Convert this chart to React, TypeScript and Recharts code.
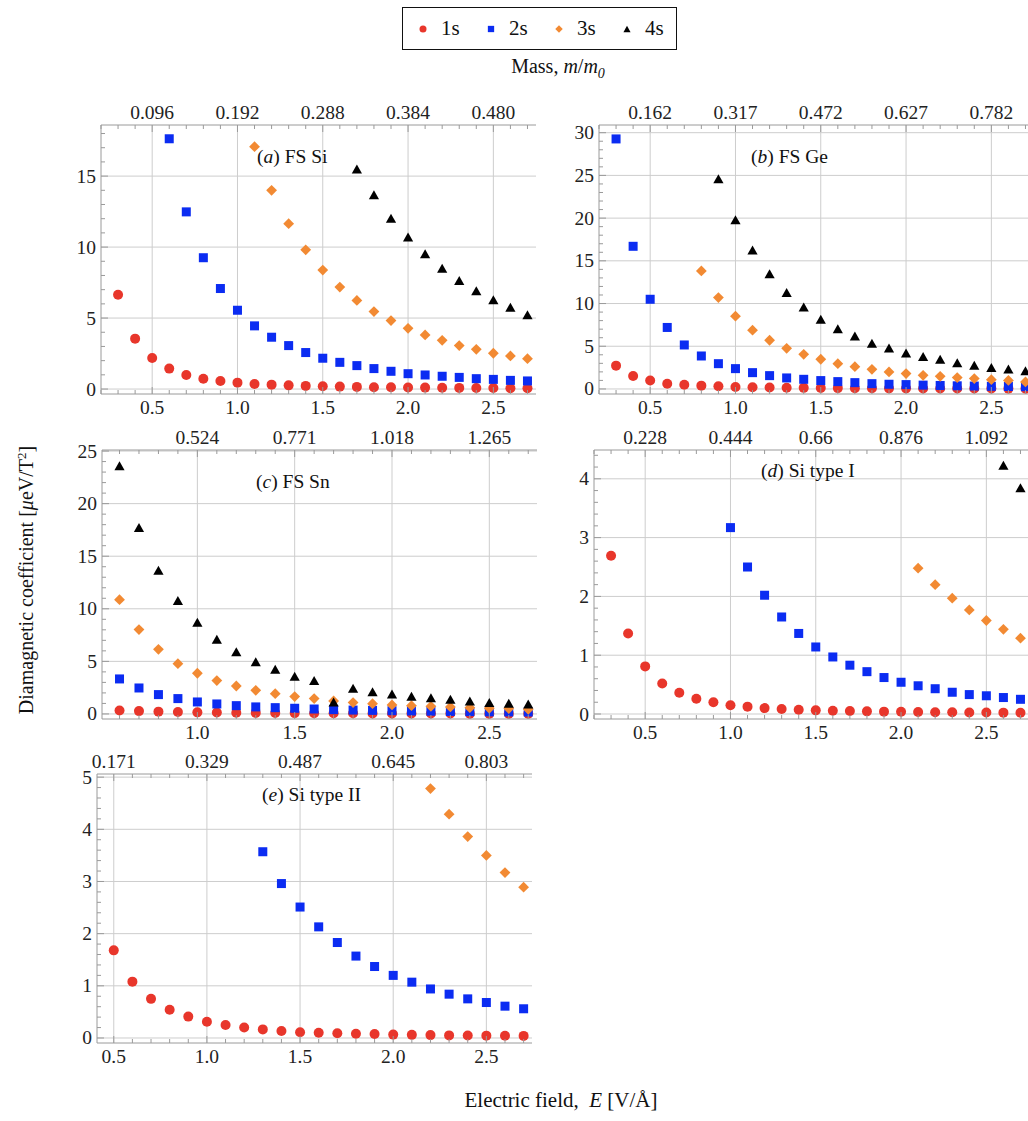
import React from "react";
import { ScatterChart, Scatter, XAxis, YAxis, CartesianGrid } from "recharts";

// ---------- data ----------
const field = [0.3, 0.4, 0.5, 0.6, 0.7, 0.8, 0.9, 1.0, 1.1, 1.2, 1.3, 1.4, 1.5, 1.6, 1.7, 1.8, 1.9, 2.0, 2.1, 2.2, 2.3, 2.4, 2.5, 2.6, 2.7];

const seriesNames = ["1s", "2s", "3s", "4s"];
const seriesColors = ["#e8362b", "#0b2cf2", "#f28a33", "#000000"];
const seriesShapes = ["circle", "square", "diamond", "triangle"];

const fieldTicks = [0.5, 1.0, 1.5, 2.0, 2.5];
const fieldLabels = ["0.5", "1.0", "1.5", "2.0", "2.5"];

// (a) FS Si
const siFS1s = [6.64, 3.55, 2.19, 1.44, 0.99, 0.73, 0.57, 0.45, 0.36, 0.31, 0.26, 0.22, 0.19, 0.17, 0.15, 0.13, 0.12, 0.11, 0.1, 0.09, 0.08, 0.07, 0.07, 0.06, 0.06];
const siFS2s = [null, null, null, 17.63, 12.48, 9.25, 7.08, 5.55, 4.45, 3.65, 3.06, 2.57, 2.17, 1.88, 1.65, 1.44, 1.25, 1.08, 0.99, 0.9, 0.82, 0.73, 0.68, 0.61, 0.57];
const siFS3s = [null, null, null, null, null, null, null, null, 17.07, 14.0, 11.65, 9.81, 8.38, 7.18, 6.24, 5.46, 4.82, 4.28, 3.81, 3.43, 3.06, 2.8, 2.52, 2.33, 2.14];
const siFS4s = [null, null, null, null, null, null, null, null, null, null, null, null, null, null, 15.5, 13.68, 12.03, 10.71, 9.53, 8.5, 7.65, 6.92, 6.29, 5.77, 5.23];
const siFSMass = ["0.096", "0.192", "0.288", "0.384", "0.480"];

// (b) FS Ge
const geFS1s = [2.73, 1.52, 0.98, 0.62, 0.5, 0.39, 0.31, 0.23, 0.2, 0.17, 0.15, 0.13, 0.11, 0.1, 0.09, 0.08, 0.07, 0.07, 0.06, 0.06, 0.05, 0.05, 0.05, 0.04, 0.04];
const geFS2s = [29.27, 16.7, 10.5, 7.2, 5.15, 3.86, 2.96, 2.38, 1.91, 1.56, 1.29, 1.13, 0.98, 0.86, 0.74, 0.62, 0.55, 0.51, 0.45, 0.41, 0.37, 0.34, 0.31, 0.29, 0.27];
const geFS3s = [null, null, null, null, null, 13.82, 10.7, 8.52, 6.88, 5.7, 4.76, 4.06, 3.48, 2.96, 2.61, 2.3, 1.99, 1.8, 1.6, 1.48, 1.33, 1.21, 1.09, 1.0, 0.82];
const geFS4s = [null, null, null, null, null, null, 24.6, 19.8, 16.27, 13.5, 11.28, 9.6, 8.15, 7.06, 6.2, 5.35, 4.8, 4.21, 3.79, 3.48, 3.08, 2.77, 2.5, 2.34, 2.14];
const geFSMass = ["0.162", "0.317", "0.472", "0.627", "0.782"];

// (c) FS Sn
const snFS1s = [null, null, null, 0.32, 0.27, 0.22, 0.18, 0.15, 0.13, 0.11, 0.1, 0.09, 0.08, 0.07, 0.06, 0.06, 0.05, 0.05, 0.04, 0.04, 0.04, 0.03, 0.03, 0.03, 0.03];
const snFS2s = [null, null, null, 3.33, 2.47, 1.84, 1.46, 1.14, 0.95, 0.79, 0.67, 0.6, 0.54, 0.47, 0.41, 0.37, 0.34, 0.31, 0.28, 0.26, 0.24, 0.22, 0.2, 0.19, 0.18];
const snFS3s = [null, null, null, 10.87, 8.02, 6.15, 4.78, 3.87, 3.17, 2.66, 2.25, 1.93, 1.65, 1.46, 1.24, 1.08, 0.98, 0.86, 0.79, 0.73, 0.67, 0.6, 0.54, 0.51, 0.44];
const snFS4s = [null, null, null, 23.6, 17.74, 13.66, 10.8, 8.71, 7.1, 5.92, 4.97, 4.25, 3.58, 3.17, 1.14, 2.44, 2.12, 1.9, 1.68, 1.55, 1.4, 1.24, 1.08, 1.02, 0.95];
const snFSMass = [null, "0.524", "0.771", "1.018", "1.265"];

// (d) Si type I
const siI1s = [2.69, 1.37, 0.81, 0.52, 0.36, 0.26, 0.2, 0.15, 0.125, 0.1, 0.085, 0.072, 0.062, 0.055, 0.05, 0.045, 0.04, 0.037, 0.034, 0.031, 0.029, 0.027, 0.025, 0.023, 0.021];
const siI2s = [null, null, null, null, null, null, null, 3.17, 2.5, 2.02, 1.65, 1.37, 1.14, 0.97, 0.83, 0.72, 0.62, 0.54, 0.48, 0.43, 0.37, 0.33, 0.31, 0.28, 0.25];
const siI3s = [null, null, null, null, null, null, null, null, null, null, null, null, null, null, null, null, null, null, 2.48, 2.2, 1.97, 1.77, 1.59, 1.44, 1.29];
const siI4s = [null, null, null, null, null, null, null, null, null, null, null, null, null, null, null, null, null, null, null, null, null, null, null, 4.23, 3.85];
const siIMass = ["0.228", "0.444", "0.66", "0.876", "1.092"];

// (e) Si type II
const siII1s = [null, null, 1.68, 1.08, 0.75, 0.54, 0.41, 0.31, 0.25, 0.2, 0.165, 0.134, 0.11, 0.1, 0.09, 0.08, 0.075, 0.065, 0.06, 0.055, 0.05, 0.048, 0.045, 0.042, 0.04];
const siII2s = [null, null, null, null, null, null, null, null, null, null, 3.57, 2.96, 2.51, 2.13, 1.83, 1.57, 1.37, 1.2, 1.07, 0.94, 0.84, 0.75, 0.68, 0.61, 0.56];
const siII3s = [null, null, null, null, null, null, null, null, null, null, null, null, null, null, null, null, null, null, null, 4.78, 4.29, 3.86, 3.5, 3.17, 2.89];
const siIIMass = ["0.171", "0.329", "0.487", "0.645", "0.803"];

// ---------- layout ----------
const FRAME = "#9a9a9a";
const GRID = "#cdcdcd";
const FONT = "'Liberation Serif', 'Times New Roman', serif";
const TICK_FS = 19.5;

const panels = [
  { tag: "a", name: "FS Si", series: [siFS1s, siFS2s, siFS3s, siFS4s], mass: siFSMass, xd: [0.2, 2.75], yd: [-0.35, 18.6], yMajor: [0, 5, 10, 15], yMinor: 1, box: [101, 125], title: [257, 157] },
  { tag: "b", name: "FS Ge", series: [geFS1s, geFS2s, geFS3s, geFS4s], mass: geFSMass, xd: [0.2, 2.75], yd: [-0.59, 30.9], yMajor: [0, 5, 10, 15, 20, 25, 30], yMinor: 1, box: [599, 125], title: [751, 157] },
  { tag: "c", name: "FS Sn", series: [snFS1s, snFS2s, snFS3s, snFS4s], mass: snFSMass, xd: [0.51, 2.745], yd: [-0.48, 25.1], yMajor: [0, 5, 10, 15, 20, 25], yMinor: 1, box: [102, 450], title: [256, 482] },
  { tag: "d", name: "Si type I", series: [siI1s, siI2s, siI3s, siI4s], mass: siIMass, xd: [0.2, 2.75], yd: [-0.085, 4.49], yMajor: [0, 1, 2, 3, 4], yMinor: 0.2, box: [594, 450], title: [761, 471] },
  { tag: "e", name: "Si type II", series: [siII1s, siII2s, siII3s], mass: siIIMass, xd: [0.41, 2.745], yd: [-0.096, 5.06], yMajor: [0, 1, 2, 3, 4, 5], yMinor: 0.2, box: [97, 774], title: [262, 795] },
];

const BOX_W = 435;
const BOX_H = 269;
const AX_L = 45;
const AX_T = 35;
const AX_B = 35;

function ticksBetween(lo: number, hi: number, step: number) {
  const out: number[] = [];
  for (let v = Math.ceil(lo / step) * step; v <= hi + 1e-9; v += step) {
    out.push(Math.round(v * 1000) / 1000);
  }
  return out;
}

function Marker({ shape, color, cx, cy, s = 1 }: any) {
  if (shape === "circle") return <circle cx={cx} cy={cy} r={5 * s} fill={color} />;
  if (shape === "square") {
    const h = 4.5 * s;
    return <rect x={cx - h} y={cy - h} width={2 * h} height={2 * h} fill={color} />;
  }
  if (shape === "diamond") {
    const h = 5.4 * s;
    return <path d={`M${cx},${cy - h}L${cx + h},${cy}L${cx},${cy + h}L${cx - h},${cy}Z`} fill={color} />;
  }
  const w = 5.1 * s;
  const h = 4.5 * s;
  return <path d={`M${cx},${cy - h}L${cx + w},${cy + h}L${cx - w},${cy + h}Z`} fill={color} />;
}

function FrameTick(props: any) {
  const { x, y, payload, side, majors, labels } = props;
  const v = payload.value;
  const idx = majors.findIndex((m: number) => Math.abs(m - v) < 1e-6);
  const len = idx >= 0 ? 7 : 4;
  const label = idx >= 0 && labels ? labels[idx] : null;
  const txt = { fontFamily: FONT, fontSize: TICK_FS, fill: "#222" };
  if (side === "bottom")
    return (
      <g>
        <line x1={x} y1={y} x2={x} y2={y - len} stroke={FRAME} />
        {label && <text x={x} y={y + 20} textAnchor="middle" {...txt}>{label}</text>}
      </g>
    );
  if (side === "top")
    return (
      <g>
        <line x1={x} y1={y} x2={x} y2={y + len} stroke={FRAME} />
        {label && <text x={x} y={y - 6} textAnchor="middle" {...txt}>{label}</text>}
      </g>
    );
  if (side === "left")
    return (
      <g>
        <line x1={x} y1={y} x2={x + len} y2={y} stroke={FRAME} />
        {label != null && <text x={x - 5} y={y + 6.5} textAnchor="end" {...txt}>{label}</text>}
      </g>
    );
  return (
    <g>
      <line x1={x} y1={y} x2={x - len} y2={y} stroke={FRAME} />
    </g>
  );
}

function Panel({ p }: any) {
  const xTicks = ticksBetween(p.xd[0], p.xd[1], 0.1);
  const yTicks = ticksBetween(Math.max(0, p.yd[0]), p.yd[1], p.yMinor);
  const xMajor = fieldTicks.filter((t) => t >= p.xd[0]);
  const xLab = fieldLabels.filter((_, i) => fieldTicks[i] >= p.xd[0]);
  const massLab = p.mass.filter((m: any) => m != null);
  const yLab = p.yMajor.map((v: number) => String(v));
  const axisCommon = { tickLine: false, tickSize: 0, tickMargin: 0, interval: 0 as const, allowDataOverflow: true, axisLine: { stroke: FRAME } };

  return (
    <div style={{ position: "absolute", left: p.box[0] - AX_L, top: p.box[1] - AX_T }}>
      <ScatterChart width={BOX_W + AX_L + 2} height={BOX_H + AX_T + AX_B} margin={{ top: 0, right: 2, bottom: 0, left: 0 }}>
        <CartesianGrid xAxisId="b" yAxisId="l" stroke={GRID} verticalValues={xMajor} horizontalValues={p.yMajor} />
        <XAxis xAxisId="b" type="number" dataKey="E" orientation="bottom" domain={p.xd} ticks={xTicks} height={AX_B} {...axisCommon} tick={<FrameTick side="bottom" majors={xMajor} labels={xLab} />} />
        <XAxis xAxisId="t" type="number" dataKey="E" orientation="top" domain={p.xd} ticks={xTicks} height={AX_T} {...axisCommon} tick={<FrameTick side="top" majors={xMajor} labels={massLab} />} />
        <YAxis yAxisId="l" type="number" dataKey="v" orientation="left" domain={p.yd} ticks={yTicks} width={AX_L} {...axisCommon} tick={<FrameTick side="left" majors={p.yMajor} labels={yLab} />} />
        <YAxis yAxisId="r" type="number" dataKey="v" orientation="right" domain={p.yd} ticks={yTicks} width={0} {...axisCommon} tick={<FrameTick side="right" majors={p.yMajor} />} />
        {p.series.map((vals: (number | null)[], si: number) => (
          <Scatter
            key={si}
            xAxisId="b"
            yAxisId="l"
            name={seriesNames[si]}
            data={field.map((E, i) => ({ E, v: vals[i] })).filter((d) => d.v != null)}
            isAnimationActive={false}
            shape={(sp: any) => <Marker shape={seriesShapes[si]} color={seriesColors[si]} cx={sp.cx} cy={sp.cy} />}
          />
        ))}
      </ScatterChart>
      <div style={{ position: "absolute", left: p.title[0] - p.box[0] + AX_L, top: p.title[1] - p.box[1] + AX_T, transform: "translateY(-50%)", fontFamily: FONT, fontSize: 19.5, whiteSpace: "nowrap", color: "#111" }}>
        (<i>{p.tag}</i>) {p.name}
      </div>
    </div>
  );
}

function Legend() {
  return (
    <div style={{ position: "absolute", left: 402, top: 7, width: 273, height: 41, border: "1.5px solid #111", display: "flex", alignItems: "center" }}>
      {seriesNames.map((n, i) => (
        <div key={n} style={{ width: 68, display: "flex", alignItems: "center", paddingLeft: 14, boxSizing: "border-box" }}>
          <svg width={12} height={12}>
            <Marker shape={seriesShapes[i]} color={seriesColors[i]} cx={6} cy={6} s={0.7} />
          </svg>
          <span style={{ marginLeft: 12, fontFamily: FONT, fontSize: 21 }}>{n}</span>
        </div>
      ))}
    </div>
  );
}

export default function App() {
  return (
    <div style={{ position: "absolute", left: 0, top: 0, width: 1028, height: 1121, overflow: "hidden", background: "#fff", fontFamily: FONT, color: "#111" }}>
      <Legend />
      <div style={{ position: "absolute", left: 558, top: 68, transform: "translate(-50%,-50%)", fontSize: 20, whiteSpace: "nowrap" }}>
        Mass, <i>m</i>/<i>m</i><sub style={{ fontSize: 14 }}><i>0</i></sub>
      </div>
      {panels.map((p) => (
        <Panel key={p.tag} p={p} />
      ))}
      <div style={{ position: "absolute", left: 26, top: 580, transform: "translate(-50%,-50%) rotate(-90deg)", fontSize: 20, whiteSpace: "nowrap" }}>
        Diamagnetic coefficient [<i>μ</i>eV/T<sup style={{ fontSize: 13 }}>2</sup>]
      </div>
      <div style={{ position: "absolute", left: 561, top: 1100, transform: "translate(-50%,-50%)", fontSize: 21, whiteSpace: "nowrap" }}>
        Electric field,&nbsp; <i>E</i> [V/Å]
      </div>
    </div>
  );
}
